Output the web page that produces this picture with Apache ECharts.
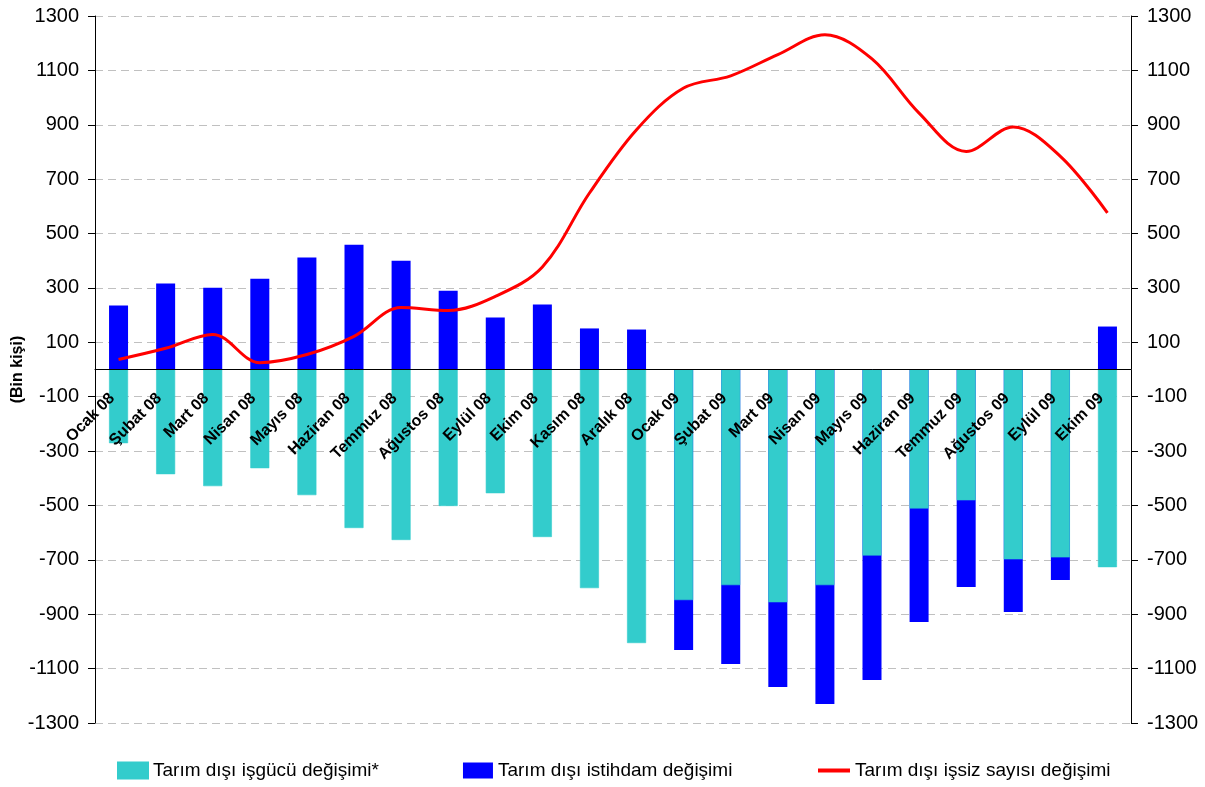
<!DOCTYPE html>
<html>
<head>
  <meta charset="UTF-8">
  <title>Tarım dışı işgücü</title>
  <style>
    html, body { margin: 0; padding: 0; background: #fff; }
    #chart { width: 1205px; height: 787px; }
  </style>
  <script src="https://cdn.jsdelivr.net/npm/echarts@6/dist/echarts.min.js"></script>
</head>
<body>
  <div id="chart"></div>
  <script>
    var months = ['Ocak 08', 'Şubat 08', 'Mart 08', 'Nisan 08', 'Mayıs 08', 'Haziran 08', 'Temmuz 08',
      'Ağustos 08', 'Eylül 08', 'Ekim 08', 'Kasım 08', 'Aralık 08', 'Ocak 09', 'Şubat 09', 'Mart 09',
      'Nisan 09', 'Mayıs 09', 'Haziran 09', 'Temmuz 09', 'Ağustos 09', 'Eylül 09', 'Ekim 09'];
    // işgücü değişimi
    var isgucu = [-271, -385, -429, -363, -462, -583, -627, -502, -455, -616, -804, -1006,
      -848, -793, -856, -793, -684, -511, -481, -698, -691, -727];
    // istihdam değişimi
    var istihdam = [235, 316, 301, 334, 412, 459, 400, 290, 191, 239, 151, 147,
      -1032, -1083, -1168, -1230, -1142, -929, -800, -892, -774, 158];
    // işsiz sayısı değişimi
    var issiz = [37, 78, 129, 25, 55, 122, 228, 217, 269, 377, 649, 882,
      1035, 1080, 1158, 1231, 1142, 943, 802, 892, 784, 576];
    var yTicks = { min: -1300, max: 1300, interval: 200 };

    var chart = echarts.init(document.getElementById('chart'));
    var font = 'Liberation Sans, Arial, sans-serif';

    var gridTop = 16, gridBottom = 64, chartH = 787;
    var plotH = chartH - gridTop - gridBottom;
    // the category axis sits on the zero line
    var zeroOffset = plotH * (0 - yTicks.min) / (yTicks.max - yTicks.min);

    var yAxisBase = {
      type: 'value',
      min: yTicks.min,
      max: yTicks.max,
      interval: yTicks.interval,
      axisLine: { show: true, lineStyle: { color: '#000', width: 1 } },
      axisTick: { show: true, length: 7, lineStyle: { color: '#000' } },
      axisLabel: {
        color: '#000', fontSize: 20, fontFamily: font, margin: 16,
        formatter: function (v) { return String(v); }
      }
    };

    var legendText = { fontSize: 19, color: '#000', fontFamily: font };

    chart.setOption({
      animation: false,
      textStyle: { fontFamily: font },
      grid: { left: 95, right: 74, top: gridTop, bottom: gridBottom, outerBoundsMode: 'none', containLabel: false },
      legend: [
        {
          left: 112,
          top: 756,
          itemWidth: 30,
          itemHeight: 16,
          itemGap: 84,
          textStyle: legendText,
          data: [
            { name: 'Tarım dışı işgücü değişimi*', icon: 'rect' },
            { name: 'Tarım dışı istihdam değişimi', icon: 'rect' }
          ]
        },
        {
          left: 813,
          top: 756,
          itemWidth: 32,
          itemHeight: 4,
          textStyle: legendText,
          data: [{ name: 'Tarım dışı işsiz sayısı değişimi', icon: 'rect' }]
        }
      ],
      xAxis: {
        type: 'category',
        data: months,
        offset: -zeroOffset,
        z: 10,
        axisLine: { onZero: false, lineStyle: { color: '#000', width: 1 } },
        axisTick: { show: false },
        axisLabel: {
          rotate: 45,
          interval: 0,
          margin: 20,
          padding: [0, 9, 0, 0],
          color: '#000',
          fontSize: 16,
          fontWeight: 'bold',
          fontFamily: font
        }
      },
      yAxis: [
        Object.assign({}, yAxisBase, {
          name: '(Bin kişi)',
          nameLocation: 'middle',
          nameGap: 69,
          nameMoveOverlap: false,
          nameTextStyle: { fontSize: 16, fontWeight: 'bold', color: '#000', fontFamily: font },
          splitLine: { show: true, lineStyle: { color: '#c0c0c0', type: [8, 5] } }
        }),
        Object.assign({}, yAxisBase, {
          position: 'right',
          splitLine: { show: false }
        })
      ],
      series: [
        {
          name: 'Tarım dışı istihdam değişimi',
          type: 'bar',
          data: istihdam,
          barWidth: 19,
          barGap: '-100%',
          z: 2,
          itemStyle: { color: '#0000ff' }
        },
        {
          name: 'Tarım dışı işgücü değişimi*',
          type: 'bar',
          data: isgucu,
          barWidth: 19,
          barGap: '-100%',
          z: 3,
          itemStyle: { color: '#33cccc', borderColor: '#33cccc', borderWidth: 0.6 }
        },
        {
          name: 'Tarım dışı işsiz sayısı değişimi',
          type: 'line',
          data: issiz,
          smooth: 0.35,
          symbol: 'none',
          z: 5,
          lineStyle: { color: '#ff0000', width: 3 },
          itemStyle: { color: '#ff0000' }
        }
      ]
    });
  </script>
</body>
</html>
